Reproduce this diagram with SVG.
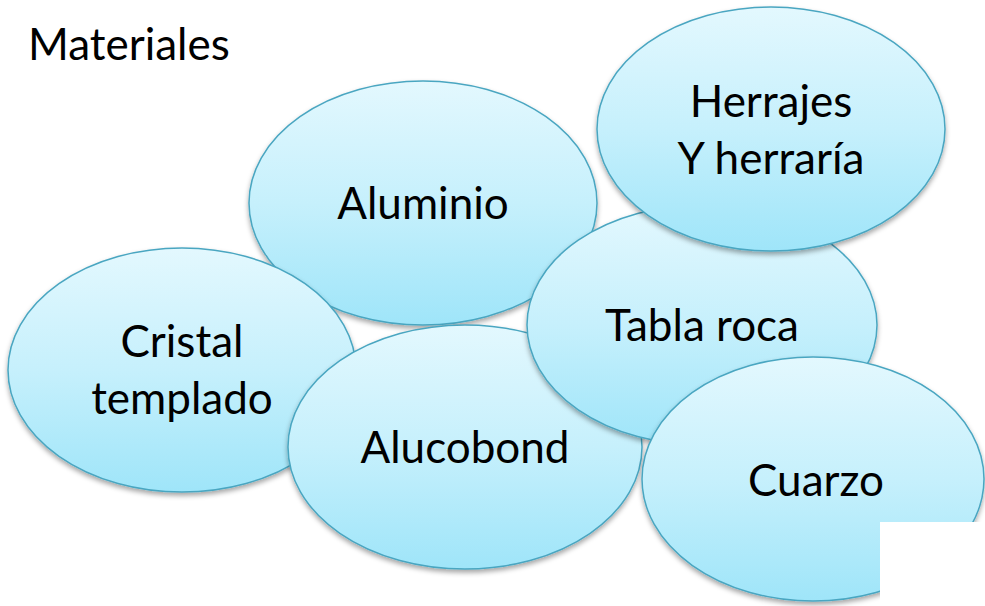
<svg xmlns="http://www.w3.org/2000/svg" width="985" height="606" viewBox="0 0 985 606">
<defs>
<linearGradient id="g" x1="0" y1="0" x2="0" y2="1">
<stop offset="0" stop-color="#e3f8fe"/>
<stop offset="0.5" stop-color="#c6f0fc"/>
<stop offset="1" stop-color="#9fe5f9"/>
</linearGradient>
<filter id="sh" x="-10%" y="-10%" width="120%" height="125%">
<feDropShadow dx="0" dy="3" stdDeviation="2.5" flood-color="#000" flood-opacity="0.35"/>
</filter>
</defs>
<style>
.n ellipse{fill:url(#g);stroke:#4aa6c1;stroke-width:1.5;filter:url(#sh)}
text{font-family:Lato,"Open Sans","Liberation Sans",sans-serif;font-size:44px;fill:#000}
.n text{text-anchor:middle}
</style>
<rect width="985" height="606" fill="#fff"/>
<text x="28" y="60">Materiales</text>
<g id="aluminio" class="n">
<ellipse cx="423" cy="203" rx="174" ry="122"/>
<text x="423" y="219">Aluminio</text>
</g>
<g id="cristal" class="n">
<ellipse cx="182" cy="370" rx="174" ry="122"/>
<text x="182" y="357">Cristal</text>
<text x="182" y="414">templado</text>
</g>
<g id="alucobond" class="n">
<ellipse cx="465" cy="447" rx="177" ry="122"/>
<text x="465" y="463">Alucobond</text>
</g>
<g id="tablaroca" class="n">
<ellipse cx="702" cy="325" rx="175" ry="120"/>
<text x="702" y="341">Tabla roca</text>
</g>
<g id="herrajes" class="n">
<ellipse cx="771" cy="129" rx="174" ry="122"/>
<text x="771" y="117">Herrajes</text>
<text x="771" y="174">Y herraría</text>
</g>
<g id="cuarzo" class="n">
<ellipse cx="813" cy="479" rx="171" ry="122"/>
<text x="816" y="496">Cuarzo</text>
</g>
<g id="connectors"/>
<rect x="880" y="522" width="105" height="84" fill="#fff"/>
</svg>
